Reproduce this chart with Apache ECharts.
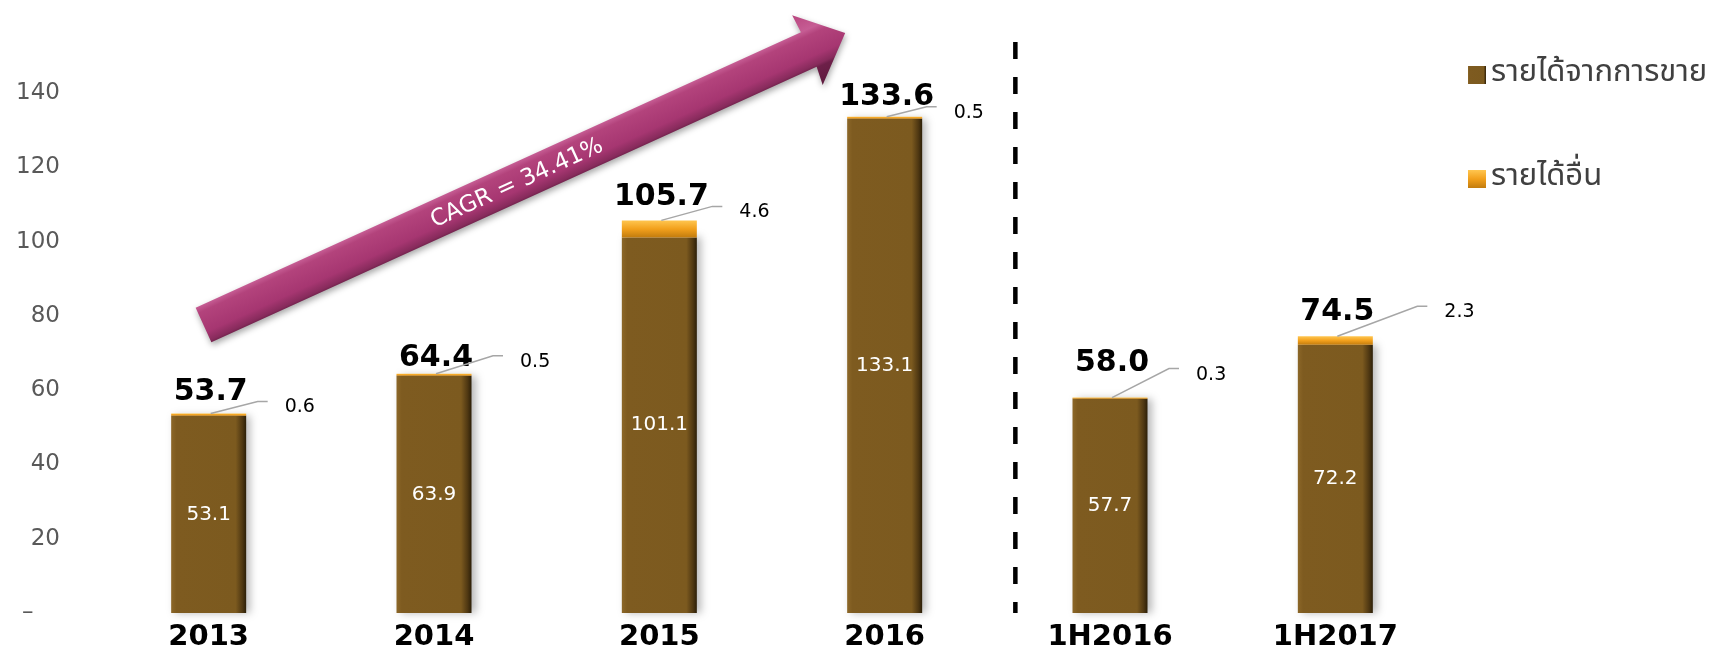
<!DOCTYPE html>
<html><head><meta charset="utf-8">
<script src="https://cdn.jsdelivr.net/npm/echarts@6/dist/echarts.min.js"></script>
<style>html,body{margin:0;padding:0;background:#fff}#c{width:1720px;height:654px}</style>
</head><body><div id="c"></div>
<script>
// ---- data ----
const categories = ['2013', '2014', '2015', '2016', '1H2016', '1H2017'];
const salesRevenue = [53.1, 63.9, 101.1, 133.1, 57.7, 72.2];
const otherIncome = [0.6, 0.5, 4.6, 0.5, 0.3, 2.3];
const totals = [53.7, 64.4, 105.7, 133.6, 58.0, 74.5];
const seriesNames = ['รายได้จากการขาย', 'รายได้อื่น'];
const cagrText = 'CAGR = 34.41%';
const yMin = 0, yMax = 140, yStep = 20;

// ---- layout (pixel offsets for annotations) ----
const totalLift = [21, 16, 23, 20, 34, 24];
const leaderEnd = [[59, -12], [69, -18], [63, -14], [52, -10], [69, -29], [92, -30]];

const NUM_FONT = "'DejaVu Sans', Verdana, sans-serif";
const THAI_FONT = "'Noto Sans Thai', 'Noto Sans Thai UI', 'Noto Sans', 'DejaVu Sans', sans-serif";

const brown = new echarts.graphic.LinearGradient(0, 0, 1, 0, [
  { offset: 0, color: '#8c6728' },
  { offset: 0.07, color: '#7e5b20' },
  { offset: 0.86, color: '#7c5a1f' },
  { offset: 0.95, color: '#4e3712' },
  { offset: 1, color: '#2c1f08' }
]);
const orange = new echarts.graphic.LinearGradient(0, 0, 0, 1, [
  { offset: 0, color: '#ffc650' },
  { offset: 0.5, color: '#f2a01c' },
  { offset: 1, color: '#c27c0e' }
]);

const chart = echarts.init(document.getElementById('c'));
const option = {
  animation: false,
  backgroundColor: '#fff',
  grid: { left: 96, right: 272, top: 93, bottom: 41, containLabel: false },
  legend: {
    data: seriesNames,
    orient: 'vertical',
    left: 1463,
    top: 52,
    itemWidth: 18,
    itemHeight: 18,
    itemGap: 68,
    icon: 'rect',
    textStyle: { fontSize: 31, lineHeight: 36, color: '#404040', fontFamily: THAI_FONT }
  },
  xAxis: {
    type: 'category',
    data: categories,
    axisLine: { show: false },
    axisTick: { show: false },
    axisLabel: { fontSize: 29, fontWeight: 'bold', color: '#000', margin: 10, fontFamily: NUM_FONT }
  },
  yAxis: {
    type: 'value',
    min: yMin, max: yMax, interval: yStep,
    splitLine: { show: false },
    axisLine: { show: false },
    axisTick: { show: false },
    axisLabel: {
      fontSize: 23, color: '#595959', margin: 36, fontFamily: NUM_FONT,
      formatter: v => v === 0 ? '\u2013\u00a0\u00a0\u00a0\u2009' : String(v)
    }
  },
  series: [
    {
      name: seriesNames[0],
      type: 'bar',
      stack: 'rev',
      barWidth: 75,
      data: salesRevenue,
      itemStyle: { color: brown, shadowColor: 'rgba(0,0,0,0.28)', shadowBlur: 8, shadowOffsetX: 4 },
      label: {
        show: true, position: 'inside', color: '#fff', fontSize: 20, fontFamily: NUM_FONT,
        formatter: p => p.value.toFixed(1)
      }
    },
    {
      name: seriesNames[1],
      type: 'bar',
      stack: 'rev',
      barWidth: 75,
      data: otherIncome,
      itemStyle: { color: orange }
    },
    {
      name: 'annot',
      type: 'custom',
      silent: true,
      z: 10,
      data: categories.map((c, i) => [i, totals[i], otherIncome[i]]),
      renderItem: function (params, api) {
        const i = params.dataIndex;
        const top = api.coord([api.value(0), api.value(1)]);
        const ex = top[0] + leaderEnd[i][0];
        const ey = top[1] + leaderEnd[i][1];
        return {
          type: 'group',
          children: [
            {
              type: 'text',
              style: {
                text: totals[i].toFixed(1), x: top[0] + 2, y: top[1] - totalLift[i],
                textAlign: 'center', textVerticalAlign: 'middle',
                font: "bold 30px " + NUM_FONT, fill: '#000'
              }
            },
            {
              type: 'polyline',
              shape: { points: [[top[0] + 2, top[1]], [ex - 10, ey], [ex, ey]] },
              style: { stroke: '#a6a6a6', lineWidth: 1.5, fill: null }
            },
            {
              type: 'text',
              style: {
                text: otherIncome[i].toFixed(1), x: ex + 17, y: ey + 6,
                textAlign: 'left', textVerticalAlign: 'middle',
                font: "19px " + NUM_FONT, fill: '#000'
              }
            }
          ]
        };
      }
    }
  ]
};
chart.setOption(option);

// decorative: CAGR arrow and period divider
const ang = 24.47 * Math.PI / 180;
const arrowFill = new echarts.graphic.LinearGradient(0, 0, 0, 1, [
  { offset: 0, color: '#b9467f' },
  { offset: 0.25, color: '#c65d94' },
  { offset: 0.33, color: '#b3437c' },
  { offset: 0.6, color: '#a63671' },
  { offset: 0.72, color: '#872b5c' },
  { offset: 0.76, color: '#6d2049' },
  { offset: 1, color: '#5e1a3e' }
]);
const x3 = chart.convertToPixel({ xAxisIndex: 0 }, 3);
const x4 = chart.convertToPixel({ xAxisIndex: 0 }, 4);
const yTop = chart.convertToPixel({ yAxisIndex: 0 }, yMax);
const yZero = chart.convertToPixel({ yAxisIndex: 0 }, 0);
const divX = x3 + 0.58 * (x4 - x3);
chart.setOption({
  graphic: [
    {
      type: 'group',
      x: 203.5, y: 325, rotation: ang,
      children: [
        {
          type: 'polygon',
          shape: { points: [[0, -19], [665, -19], [664, -38], [705, 0], [663, 38], [665, 19], [0, 19]] },
          style: { fill: arrowFill, shadowBlur: 6, shadowColor: 'rgba(0,0,0,0.35)', shadowOffsetY: 3, shadowOffsetX: 1 }
        },
        {
          type: 'text',
          x: 344, y: 1,
          style: {
            text: cagrText, textAlign: 'center', textVerticalAlign: 'middle',
            font: "23px " + NUM_FONT, fill: '#fff'
          }
        }
      ]
    },
    {
      type: 'line',
      shape: { x1: divX, y1: yTop - 51, x2: divX, y2: yZero },
      style: { stroke: '#000', lineWidth: 4.5, lineDash: [17, 18] }
    }
  ]
});
</script>
</body></html>
